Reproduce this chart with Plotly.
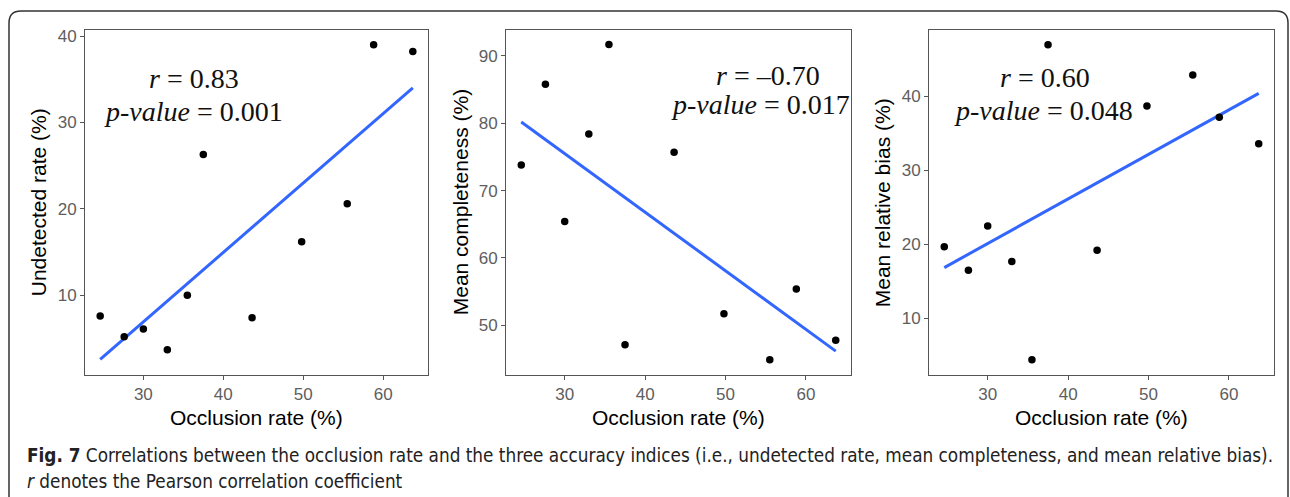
import numpy as np
import plotly.graph_objects as go

# ---------------- data ----------------
occlusion = [24.6, 27.6, 30.0, 33.0, 35.5, 37.5, 43.6, 49.8, 55.5, 58.8, 63.7]
undetected = [7.6, 5.2, 6.1, 3.7, 10.0, 26.3, 7.4, 16.2, 20.6, 39.0, 38.2]
completeness = [73.8, 85.8, 65.4, 78.4, 91.7, 47.1, 75.7, 51.7, 44.9, 55.4, 47.8]
rel_bias = [19.7, 16.5, 22.5, 17.7, 4.4, 47.0, 19.2, 38.7, 42.9, 37.2, 33.6]

y_titles = ["Undetected rate (%)", "Mean completeness (%)", "Mean relative bias (%)"]
r_labels = ["0.83", "\u20130.70", "0.60"]
p_labels = ["0.001", "0.017", "0.048"]
x_title = "Occlusion rate (%)"
x_ticks = [30, 40, 50, 60]
y_ticks = [[10, 20, 30, 40], [50, 60, 70, 80, 90], [10, 20, 30, 40]]
caption1 = ("<b>Fig. 7</b> Correlations between the occlusion rate and the three accuracy indices "
            "(i.e., undetected rate, mean completeness, and mean relative bias).")
caption2 = "<i>r</i> denotes the Pearson correlation coefficient"

# ---------------- layout helpers (pixels -> paper) ----------------
W, H = 1290, 497
def px(x):
    return x / W
def py(y):
    return 1 - y / H

panels = [  # left, right, top, bottom (pixels)
    (85, 428, 27, 374),
    (506, 851, 27, 374),
    (929, 1274, 27, 374),
]
x_range = [22.7, 65.6]
y_ranges = [[0.8, 40.72], [42.66, 93.88], [2.39, 49.0]]
series = [undetected, completeness, rel_bias]

fig = go.Figure()
serif = "Liberation Serif, Times New Roman, serif"
sans = "Liberation Sans, Arial, Helvetica, sans-serif"

xs = np.array(occlusion)
for i, ys in enumerate(series):
    ys = np.array(ys)
    k = "" if i == 0 else str(i + 1)
    slope, icpt = np.polyfit(xs, ys, 1)
    xl = np.array([xs.min(), xs.max()])
    fig.add_trace(go.Scatter(x=xl, y=slope * xl + icpt, mode="lines",
                             line=dict(color="#3366FF", width=3),
                             xaxis="x" + k, yaxis="y" + k, showlegend=False,
                             hoverinfo="skip"))
    fig.add_trace(go.Scatter(x=xs, y=ys, mode="markers",
                             marker=dict(color="black", size=7.5),
                             xaxis="x" + k, yaxis="y" + k, showlegend=False))
    l, r, t, b = panels[i]
    axis_common = dict(showgrid=False, zeroline=False, showline=True, mirror=True,
                       linecolor="#555555", linewidth=1, ticks="outside", ticklen=4,
                       tickcolor="#555555", tickwidth=1,
                       tickfont=dict(family=sans, size=17, color="#5e5e5e"))
    fig.update_layout(**{
        "xaxis" + k: dict(domain=[px(l), px(r)], range=x_range, tickvals=x_ticks,
                          anchor="y" + k, **axis_common),
        "yaxis" + k: dict(domain=[py(b), py(t)], range=y_ranges[i], tickvals=y_ticks[i],
                          anchor="x" + k, **axis_common),
    })

annots = []
# axis titles
ytitle_x = [38, 460, 882]
for i, (l, r, t, b) in enumerate(panels):
    annots.append(dict(text=x_title, x=px((l + r) / 2), y=py(417), xref="paper", yref="paper",
                       showarrow=False, xanchor="center", yanchor="middle",
                       font=dict(family=sans, size=21, color="black")))
    annots.append(dict(text=y_titles[i], x=px(ytitle_x[i]), y=py((t + b) / 2), xref="paper",
                       yref="paper", showarrow=False, textangle=-90, xanchor="center",
                       yanchor="middle", font=dict(family=sans, size=21, color="black")))

# statistics text
r_pos = [(194, 76), (768, 73), (1045, 75)]
p_pos = [(193, 109), (760, 102), (1043, 108)]
for i in range(3):
    annots.append(dict(text="<i>r</i> = " + r_labels[i], x=px(r_pos[i][0]), y=py(r_pos[i][1]),
                       xref="paper", yref="paper", showarrow=False, xanchor="center",
                       yanchor="middle", font=dict(family=serif, size=28, color="#111111")))
    annots.append(dict(text="<i>p-value</i> = " + p_labels[i], x=px(p_pos[i][0]),
                       y=py(p_pos[i][1]), xref="paper", yref="paper", showarrow=False,
                       xanchor="center", yanchor="middle",
                       font=dict(family=serif, size=28, color="#111111")))

capfont = dict(family="Liberation Sans Narrow, DejaVu Sans Condensed, Open Sans, sans-serif",
               size=18.8, color="#222222")
annots.append(dict(text=caption1, x=px(25), y=py(455), xref="paper", yref="paper",
                   showarrow=False, xanchor="left", yanchor="middle", font=capfont))
annots.append(dict(text=caption2, x=px(25), y=py(481), xref="paper", yref="paper",
                   showarrow=False, xanchor="left", yanchor="middle", font=capfont))

# outer rounded frame
x0, x1, yt, yb = 9, 1288, 8, 520
rr = 12
path = (f"M {px(x0)},{py(yb)} L {px(x0)},{py(yt + rr)} Q {px(x0)},{py(yt)} {px(x0 + rr)},{py(yt)} "
        f"L {px(x1 - rr)},{py(yt)} Q {px(x1)},{py(yt)} {px(x1)},{py(yt + rr)} L {px(x1)},{py(yb)}")
fig.add_shape(type="path", path=path, xref="paper", yref="paper",
              line=dict(color="#333333", width=1.5))

fig.update_layout(width=W, height=H, margin=dict(l=0, r=0, t=0, b=0),
                  paper_bgcolor="white", plot_bgcolor="white", annotations=annots,
                  showlegend=False)

fig.write_html("out.html", config={"displayModeBar": False},
               post_script="document.body.style.margin='0';document.body.style.overflow='hidden';")
